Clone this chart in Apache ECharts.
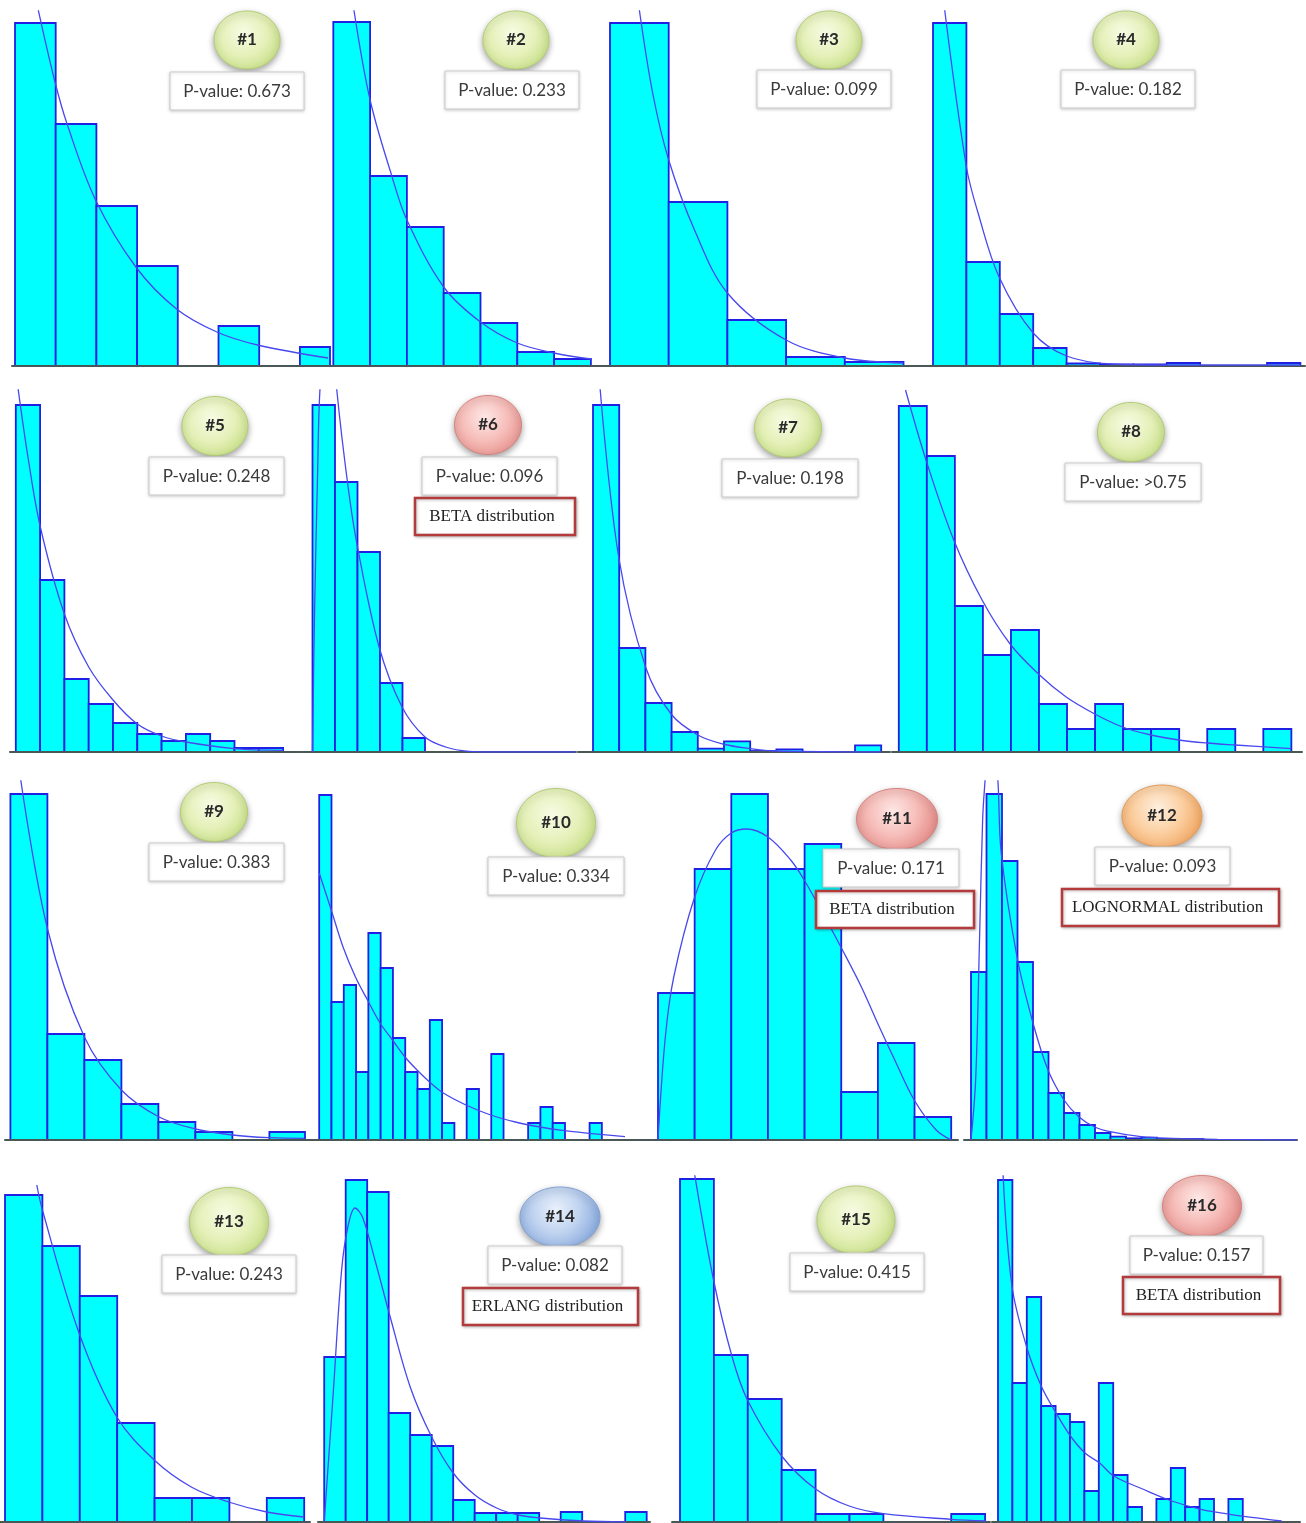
<!DOCTYPE html>
<html>
<head>
<meta charset="utf-8">
<script src="https://cdn.jsdelivr.net/npm/echarts@6/dist/echarts.min.js"></script>
<style>
  html, body { margin: 0; padding: 0; background: #ffffff; }
  #chart { width: 1306px; height: 1523px; }
</style>
</head>
<body>
<div id="chart"></div>
<script>
// ---- Histogram bin heights (bins are unit-wide, starting at 0) ----
const freq01 = [343, 242, 160, 100, 0, 40, 0, 19];
const freq02 = [344, 190, 139, 73, 43, 14, 7];
const freq03 = [343, 164, 46, 9, 4];
const freq04 = [343, 104, 52, 18, 2.5, 1.5, 1.5, 3, 0, 0, 3];
const freq05 = [347, 172, 73, 48, 29, 18, 11, 18, 11, 4, 4];
const freq06 = [347, 270, 200, 69, 14];
const freq07 = [347, 104, 49, 20, 3.4, 10.7, 1, 2.7, 0, 0, 6.7];
const freq08 = [346, 296, 146, 97, 122, 48, 23, 48, 23, 23, 0, 23, 0, 23];
const freq09 = [346, 106, 80, 36, 18, 8, 0, 8];
const freq10 = [345, 138, 155, 68, 207, 172, 102, 68, 51, 120, 17, 0, 51, 0, 86, 0, 0, 17, 33, 17, 0, 0, 17];
const freq11 = [147, 271, 346, 271, 296, 48, 97, 23];
const freq12 = [168, 346, 279, 178, 88, 47, 27, 15, 7, 3.3, 1.7, 2.3, 1, 1, 1];
const freq13 = [327, 276, 226, 99, 24, 24, 0, 24];
const freq14 = [165, 342, 330, 109, 87, 76, 22, 9, 9, 9, 0, 10, 0, 0, 10];
const freq15 = [343, 167, 123, 52, 8, 8, 0, 0, 8];
const freq16 = [342, 139, 225, 116, 108, 100, 31, 139, 47, 15, 0, 23, 54, 15, 23, 0, 23];

// ---- Fitted density curves, sampled as [bin position, height] ----
const fit01 = [[0.55, 360], [0.97, 286], [1.28, 242], [1.98, 166], [2.97, 99], [3.97, 57], [4.96, 34], [5.96, 21], [7.69, 8]];
const fit02 = [[0.56, 356], [1.0, 266], [1.59, 190], [2.0, 146], [3.0, 79], [4.0, 44], [5.0, 23], [6.0, 13], [7.0, 7]];
const fit03 = [[0.5, 356], [0.73, 272], [1.0, 206], [1.44, 136], [2.0, 73], [3.0, 26], [4.0, 8], [5.0, 3]];
const fit04 = [[0.35, 356], [1.0, 199], [1.35, 153], [1.98, 89], [3.0, 33], [4.0, 10], [5.33, 2], [7, 1], [11, 1]];
const fit05 = [[0.09, 364], [0.5, 295], [1.01, 225], [2.0, 138], [3.0, 85], [4.0, 52], [5.0, 28], [6.0, 16], [7.0, 10], [9.0, 3.4], [11.0, 1.7]];
const fit06 = [[0, 0], [0.09, 139], [0.22, 272], [0.33, 362], [0.7, 470], [1.08, 362], [1.6, 262], [2.0, 205], [2.96, 105], [3.98, 45], [5.0, 15], [5.92, 5], [6.94, 0.7], [8, 0], [11.67, 0]];
const fit07 = [[0.27, 364], [0.98, 195], [2.02, 84], [2.98, 38], [4.0, 17], [4.96, 8], [6.0, 3.4], [7.0, 1], [11, 0]];
const fit08 = [[0.24, 362], [0.97, 292], [1.96, 212], [2.97, 152], [3.97, 108], [4.98, 78], [5.97, 55], [6.99, 38], [7.98, 25], [8.99, 17], [9.99, 12], [10.99, 9], [11.99, 7], [13.99, 3.4]];
const fit09 = [[0.28, 360], [1.01, 210], [2.0, 103], [3.0, 50], [4.02, 23], [5.0, 11], [6.0, 5], [7.0, 2.3], [7.94, 1.7]];
const fit10 = [[0, 267], [0.98, 230], [1.94, 193], [2.95, 163], [3.93, 140], [4.95, 117], [5.96, 100], [6.98, 83], [7.96, 70], [8.98, 58], [9.97, 48], [11.94, 35], [13.96, 25], [15.96, 18], [17.97, 13], [19.97, 9.3], [21.95, 6.7], [24.88, 3.3]];
const fit11 = [[0, 0], [0.2, 103], [0.43, 163], [1.0, 243], [1.57, 290], [2.0, 307], [2.42, 311], [3.0, 303], [3.62, 280], [3.99, 260], [4.64, 217], [4.99, 193], [5.55, 153], [5.99, 117], [6.46, 80], [6.99, 40], [7.59, 10], [8.0, 0]];
const fit12 = [[0, 0], [0.3, 60], [0.55, 200], [0.75, 320], [0.9, 358], [1.3, 440], [1.74, 358], [1.95, 287], [2.97, 183], [4.0, 117], [4.97, 70], [6.0, 40], [6.97, 23], [7.98, 13], [8.97, 8.3], [10.97, 3.3], [13.0, 1.7], [15.9, 0.7], [21.0, 0]];
const fit13 = [[0.85, 337], [1.0, 312], [1.98, 189], [2.99, 105], [3.99, 62], [4.98, 35], [5.98, 20], [7.0, 10], [7.99, 5]];
const fit14 = [[0, 0], [0.42, 129], [0.81, 252], [1.1, 295], [1.43, 314], [1.78, 305], [2.36, 262], [3.02, 209], [4.0, 135], [5.0, 85], [6.0, 49], [7.01, 27], [8.02, 14], [9.03, 7], [10.04, 4], [12.04, 1], [14.03, 0]];
const fit15 = [[0.43, 348], [0.99, 242], [1.53, 166], [1.99, 122], [3.0, 66], [4.0, 33], [4.99, 16], [6.0, 8.4], [7.99, 2.7], [9.03, 1]];
const fit16 = [[0.35, 348], [0.97, 236], [1.97, 176], [3.0, 136], [4.03, 109], [5.03, 86], [6.04, 69], [7.06, 59], [8.04, 46], [10.04, 33], [12.07, 21], [14.1, 12.7], [16.1, 7.7], [19.7, 1]];

// ---- Panel texts ----
const panelLabels = ['#1', '#2', '#3', '#4', '#5', '#6', '#7', '#8', '#9', '#10', '#11', '#12', '#13', '#14', '#15', '#16'];
const pValueTexts = ['P-value: 0.673', 'P-value: 0.233', 'P-value: 0.099', 'P-value: 0.182',
                     'P-value: 0.248', 'P-value: 0.096', 'P-value: 0.198', 'P-value: >0.75',
                     'P-value: 0.383', 'P-value: 0.334', 'P-value: 0.171', 'P-value: 0.093',
                     'P-value: 0.243', 'P-value: 0.082', 'P-value: 0.415', 'P-value: 0.157'];
const distributionTexts = ['', '', '', '', '', 'BETA distribution', '', '', '', '', 'BETA distribution',
                           'LOGNORMAL distribution', '', 'ERLANG distribution', '', 'BETA distribution'];
const badgeTones = ['green', 'green', 'green', 'green', 'green', 'red', 'green', 'green',
                    'green', 'green', 'red', 'orange', 'green', 'blue', 'green', 'red'];

const freqs = [freq01, freq02, freq03, freq04, freq05, freq06, freq07, freq08,
               freq09, freq10, freq11, freq12, freq13, freq14, freq15, freq16];
const fits = [fit01, fit02, fit03, fit04, fit05, fit06, fit07, fit08,
              fit09, fit10, fit11, fit12, fit13, fit14, fit15, fit16];

// ---- Layout (pixels) ----
const rows = [
  { top: 11, base: 366 },
  { top: 390, base: 752 },
  { top: 781, base: 1140 },
  { top: 1176, base: 1522 }
];
// binLeft / binW: where bin 0 starts and how wide a bin is; from/to: extent of the baseline
const panels = [
  { row: 0, binLeft: 15,    binW: 40.7,  from: 12,  to: 330 },
  { row: 0, binLeft: 333.3, binW: 36.8,  from: 330, to: 600 },
  { row: 0, binLeft: 610,   binW: 58.7,  from: 600, to: 920 },
  { row: 0, binLeft: 933,   binW: 33.4,  from: 920, to: 1305 },
  { row: 1, binLeft: 15.8,  binW: 24.3,  from: 10,  to: 298 },
  { row: 1, binLeft: 312.5, binW: 22.5,  from: 299, to: 576 },
  { row: 1, binLeft: 593,   binW: 26.2,  from: 578, to: 890 },
  { row: 1, binLeft: 898.8, binW: 28.04, from: 892, to: 1302 },
  { row: 2, binLeft: 10.4,  binW: 37,    from: 5,   to: 305 },
  { row: 2, binLeft: 319.2, binW: 12.29, from: 305, to: 652 },
  { row: 2, binLeft: 658,   binW: 36.65, from: 653, to: 958 },
  { row: 2, binLeft: 971,   binW: 15.5,  from: 964, to: 1297 },
  { row: 3, binLeft: 5,     binW: 37.4,  from: 0,   to: 310 },
  { row: 3, binLeft: 324.2, binW: 21.5,  from: 318, to: 650 },
  { row: 3, binLeft: 680,   binW: 33.9,  from: 672, to: 990 },
  { row: 3, binLeft: 998,   binW: 14.4,  from: 992, to: 1300 }
];
const badges = [
  { cx: 247, cy: 40, rx: 33, ry: 29 },   { cx: 516, cy: 40, rx: 33, ry: 29 },
  { cx: 829, cy: 40, rx: 33, ry: 29 },   { cx: 1126, cy: 40, rx: 33, ry: 29 },
  { cx: 215, cy: 426, rx: 33, ry: 29.5 }, { cx: 488, cy: 425, rx: 33.5, ry: 29.5 },
  { cx: 788, cy: 428, rx: 33.5, ry: 29 }, { cx: 1131, cy: 432, rx: 33.5, ry: 29.5 },
  { cx: 214, cy: 812, rx: 33.5, ry: 29.5 }, { cx: 556, cy: 823, rx: 39.5, ry: 34.5 },
  { cx: 897, cy: 819, rx: 40.5, ry: 30.5 }, { cx: 1162, cy: 816, rx: 40, ry: 31 },
  { cx: 229, cy: 1222, rx: 39.5, ry: 34.5 }, { cx: 560, cy: 1217, rx: 40, ry: 30 },
  { cx: 856, cy: 1220, rx: 39, ry: 34 },  { cx: 1202, cy: 1206, rx: 39.5, ry: 30.5 }
];
const pBoxes = [
  [170, 72, 134, 38], [445, 71, 134, 38], [757, 70, 134, 38], [1061, 70, 134, 38],
  [149, 457, 135, 38], [422, 457, 135, 38], [722, 459, 136, 38], [1065, 463, 136, 38],
  [149, 843, 135, 38], [488, 857, 136, 38], [823, 849, 136, 38], [1095, 847, 135, 38],
  [162, 1255, 134, 38], [488, 1246, 134, 38], [790, 1253, 134, 38], [1130, 1236, 133, 38]
];
const distBoxes = [null, null, null, null, null, [415, 498, 160, 37], null, null,
                   null, null, [816, 891, 158, 37], [1062, 889, 217, 37],
                   null, [463, 1288, 175, 37], null, [1123, 1277, 157, 37]];

const tones = {
  green:  { stops: ['#f7fbe4', '#e4f0b8', '#c4dd82'], stroke: '#b3cd76' },
  red:    { stops: ['#fde8e6', '#f6bcb8', '#e48e8a'], stroke: '#d68480' },
  orange: { stops: ['#fdefdf', '#fbcfa0', '#f1a865'], stroke: '#e39c5c' },
  blue:   { stops: ['#eaf1fb', '#bed2ef', '#8cacde'], stroke: '#84a3d4' }
};

// ---- Build the option ----
function renderBin(params, api) {
  const top = api.coord([api.value(0), api.value(2)]);
  const bottom = api.coord([api.value(1), 0]);
  const cs = params.coordSys;
  const rect = echarts.graphic.clipRectByRect(
    { x: top[0], y: top[1], width: bottom[0] - top[0], height: bottom[1] - top[1] },
    { x: cs.x, y: cs.y - 2, width: cs.width, height: cs.height + 2 }
  );
  return rect && {
    type: 'rect',
    shape: rect,
    style: { fill: '#00ffff', stroke: '#2020e4', lineWidth: 1.8 }
  };
}

const grid = [], xAxis = [], yAxis = [], series = [], elements = [];

panels.forEach((p, i) => {
  const r = rows[p.row];
  grid.push({ left: p.from, top: r.top, width: p.to - p.from, height: r.base - r.top, containLabel: false });
  xAxis.push({
    type: 'value', gridIndex: i,
    min: (p.from - p.binLeft) / p.binW,
    max: (p.to - p.binLeft) / p.binW,
    axisLine: { show: true, lineStyle: { color: '#4a5757', width: 2 } },
    axisTick: { show: false }, axisLabel: { show: false }, splitLine: { show: false },
    z: 11
  });
  yAxis.push({ type: 'value', gridIndex: i, min: 0, max: r.base - r.top, show: false, splitLine: { show: false } });

  series.push({
    type: 'custom', xAxisIndex: i, yAxisIndex: i,
    renderItem: renderBin,
    encode: { x: [0, 1], y: 2 },
    data: freqs[i].map((h, k) => [k, k + 1, h]).filter(d => d[2] > 0),
    silent: true, z: 2
  });
  series.push({
    type: 'line', xAxisIndex: i, yAxisIndex: i,
    data: fits[i], showSymbol: false, symbol: 'none',
    smooth: 0.35, clip: true,
    lineStyle: { color: '#4848ee', width: 1.3 },
    silent: true, z: 12
  });

  // Panel badge
  const b = badges[i], t = tones[badgeTones[i]];
  elements.push({
    type: 'ellipse', z: 100,
    shape: { cx: b.cx, cy: b.cy, rx: b.rx, ry: b.ry },
    style: {
      fill: new echarts.graphic.RadialGradient(0.45, 0.38, 0.72, [
        { offset: 0, color: t.stops[0] },
        { offset: 0.55, color: t.stops[1] },
        { offset: 1, color: t.stops[2] }
      ]),
      stroke: t.stroke, lineWidth: 1,
      shadowBlur: 6, shadowColor: 'rgba(0,0,0,0.35)', shadowOffsetY: 3
    }
  });
  elements.push({
    type: 'text', z: 101, x: b.cx, y: b.cy,
    style: { text: panelLabels[i], fill: '#2a2a2a', font: 'bold 17px Lato', align: 'center', verticalAlign: 'middle' }
  });

  // P-value box
  const pb = pBoxes[i];
  elements.push({
    type: 'rect', z: 102,
    shape: { x: pb[0], y: pb[1], width: pb[2], height: pb[3] },
    style: { fill: '#ffffff', stroke: '#cdcdcd', lineWidth: 1, shadowBlur: 3, shadowColor: 'rgba(0,0,0,0.18)', shadowOffsetY: 1 }
  });
  elements.push({
    type: 'text', z: 103, x: pb[0] + pb[2] / 2, y: pb[1] + pb[3] / 2 + 1,
    style: { text: pValueTexts[i], fill: '#3a3a3a', font: '17px Lato', align: 'center', verticalAlign: 'middle' }
  });

  // Distribution tag
  const db = distBoxes[i];
  if (db) {
    elements.push({
      type: 'rect', z: 102,
      shape: { x: db[0], y: db[1], width: db[2], height: db[3] },
      style: { fill: '#ffffff', stroke: '#b43b3b', lineWidth: 2.5, shadowBlur: 3, shadowColor: 'rgba(0,0,0,0.25)', shadowOffsetX: 1, shadowOffsetY: 1 }
    });
    elements.push({
      type: 'text', z: 103, x: db[0] + db[2] / 2 - 3, y: db[1] + db[3] / 2,
      style: { text: distributionTexts[i], fill: '#222222', font: '17px "Liberation Serif"', align: 'center', verticalAlign: 'middle' }
    });
  }
});

const chart = echarts.init(document.getElementById('chart'), null, { renderer: 'canvas' });
chart.setOption({
  backgroundColor: '#ffffff',
  animation: false,
  grid, xAxis, yAxis, series,
  graphic: { elements }
});
</script>
</body>
</html>
